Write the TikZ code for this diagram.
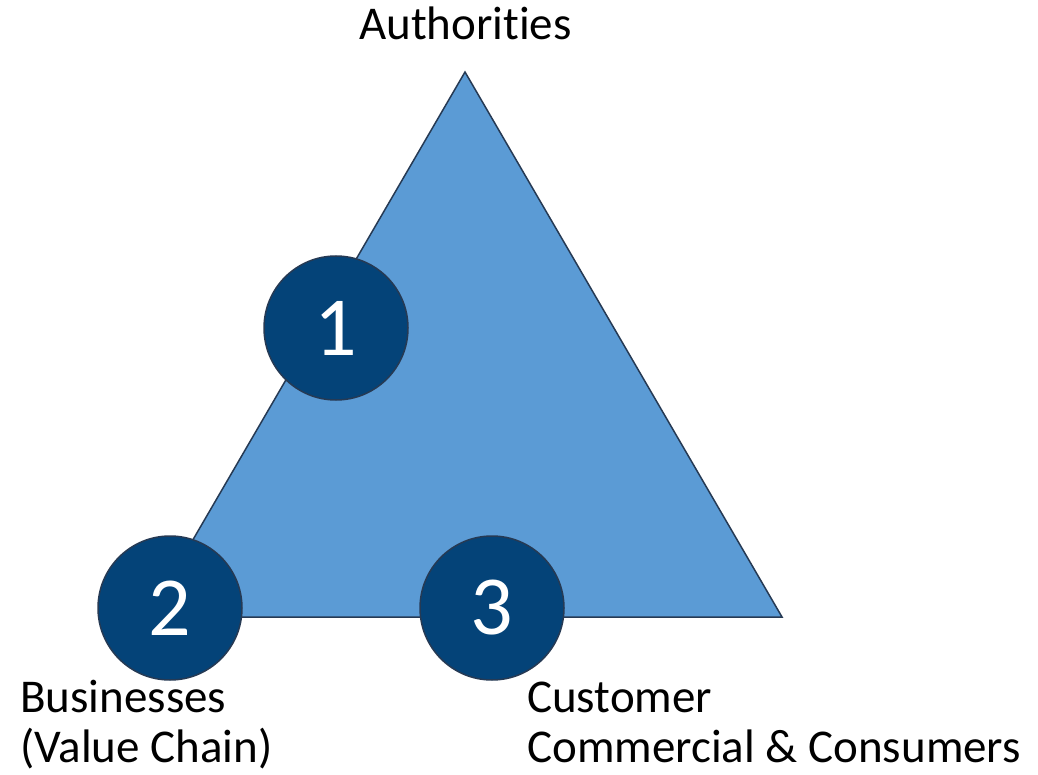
\documentclass[tikz,border=0pt]{standalone}
\usepackage{fontspec}
\setmainfont{Carlito}[Ligatures=NoCommon]
\definecolor{trifill}{RGB}{91,155,213}
\definecolor{circfill}{RGB}{4,67,120}
\definecolor{edgeline}{RGB}{38,58,84}
\tikzset{
  numcirc/.style={circle, fill=circfill, draw=edgeline, line width=1.5pt,
    minimum size=144pt, inner sep=0pt, text=white,
    font=\fontsize{84}{84}\selectfont},
  lbl/.style={font=\fontsize{47}{50}\selectfont, inner sep=0pt, align=left}
}
\begin{document}
\begin{tikzpicture}[x=1pt, y=-1pt]
  \useasboundingbox (0,0) rectangle (1038,775);

  \draw[fill=trifill, draw=edgeline, line width=1.5pt]
    (465,72) -- (782,617) -- (148,617) -- cycle;

  \foreach \name/\x/\y/\num in {one/336/328/1, two/170/608/2, three/492/608/3} {
    \node[numcirc] (\name) at (\x,\y) {\num};
  }

  \node[lbl, anchor=base] (auth) at (465.5,40) {Authorities};
  \node[lbl, anchor=base west] (bus) at (20,762) {Businesses\\(Value Chain)};
  \node[lbl, anchor=base west] (cust) at (527,762) {Customer\\Commercial \& Consumers};
\end{tikzpicture}
\end{document}
